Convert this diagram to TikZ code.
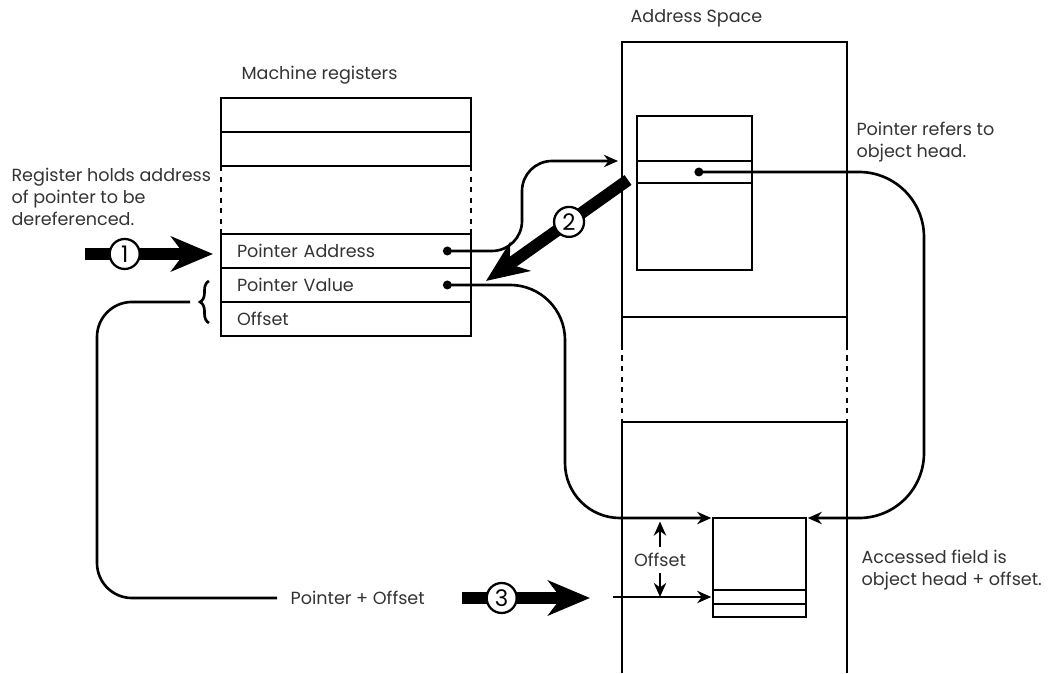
\documentclass[tikz,border=0pt]{standalone}
\usepackage{fontspec}
\setmainfont{Poppins}
\usetikzlibrary{positioning,calc,arrows.meta,decorations.pathreplacing}
\tikzset{% 
  diagram/.style = {x=0.02cm, y=-0.02cm, line width=0.8pt, text=black!80,
    font=\fontsize{10}{12.5}\selectfont},
  reg/.style = {draw, rectangle, minimum width=5cm, minimum height=0.68cm,
    text width=4.36cm, inner xsep=0.32cm, inner ysep=0pt, outer sep=0pt, align=left},
  gap/.style = {reg, draw=none, minimum height=1.36cm},
  cell/.style = {draw, rectangle, inner sep=0pt, outer sep=0pt},
  ptr/.style = {draw, line width=1.5pt, -{Stealth[length=8pt, width=7pt]}},
  dotptr/.style = {ptr, {Circle[length=5pt]}-{Stealth[length=8pt, width=7pt]}},
  bigarrow/.style = {draw, line width=0.24cm,
    -{Stealth[length=0.84cm, width=0.7cm, inset=0.26cm]}},
  stepnum/.style = {circle, draw, fill=white, line width=1.3pt, minimum size=0.6cm,
    inner sep=0pt, text=black, font=\fontsize{13}{13}\selectfont}
}

\begin{document}
\begin{tikzpicture}[diagram]
  \useasboundingbox (0,0) rectangle (1050,673);
  % machine registers
  \node[anchor=west] (regs) at (235,75) {Machine registers};
  \node[reg, anchor=north west] (r1) at (221,98) {};
  \node[reg, below=0pt of r1] (r2) {};
  \node[gap, below=0pt of r2] (r3) {};
  \node[reg, below=0pt of r3] (paddr) {Pointer Address};
  \node[reg, below=0pt of paddr] (pval) {Pointer Value};
  \node[reg, below=0pt of pval] (poff) {Offset};
  \draw[dashed] (r3.north west) -- (r3.south west) (r3.north east) -- (r3.south east);
  \node[anchor=north west, align=left] (note1) at (5,162)
    {Register holds address\\of pointer to be\\dereferenced.};
  % address space
  \node[anchor=west] (aslbl) at (624,18) {Address Space};
  \node[cell, anchor=north west, minimum width=4.5cm, minimum height=5.5cm] (upper) at (622,42) {};
  \node[cell, draw=none, below=0pt of upper, minimum width=4.5cm, minimum height=2.1cm] (middle) {};
  \draw (middle.north west) -- ++(0,28) (middle.north east) -- ++(0,28);
  \draw[dashed] ($(middle.north west)+(0,28)$) -- (middle.south west)
    ($(middle.north east)+(0,28)$) -- (middle.south east);
  \draw ($(middle.south west)+(0,251)$) -- (middle.south west) -- (middle.south east)
    -- ($(middle.south east)+(0,251)$);
  \node[cell, anchor=north west, minimum width=2.3cm, minimum height=0.9cm] (ohtop) at (637,116) {};
  \node[cell, below=0pt of ohtop, minimum width=2.3cm, minimum height=0.44cm] (ohead) {};
  \node[cell, below=0pt of ohead, minimum width=2.3cm, minimum height=1.74cm] (ohbot) {};
  \node[cell, anchor=north west, minimum width=1.86cm, minimum height=1.44cm] (aftop) at (713,518) {};
  \node[cell, below=0pt of aftop, minimum width=1.86cm, minimum height=0.28cm] (afield) {};
  \node[cell, below=0pt of afield, minimum width=1.86cm, minimum height=0.26cm] (afbot) {};
  \node[anchor=north west, align=left] (note2) at (850,116) {Pointer refers to\\object head.};
  \node[anchor=north west, align=left] (note3) at (855,544) {Accessed field is\\object head + offset.};
  \node (offl) at (660,560) {Offset};
  \node[anchor=west, inner xsep=0.26cm] (po) at (277,598) {Pointer + Offset};
  % pointers
  \coordinate (ahead) at ($(upper.west |- ohead.north)+(-4,0)$);
  \coordinate (brtip) at ($(pval.south west)+(-31,0)$);
  \draw[dotptr, rounded corners=0.6cm] ([xshift=-0.56cm]paddr.east)
    -| ($(ahead)+(-96,0)$) -- (ahead);
  \draw[dotptr, rounded corners=1.1cm, shorten >=1pt] ([xshift=-0.56cm]pval.east)
    -| ($(aftop.north west)+(-148,0)$) -- (aftop.north west);
  \draw[dotptr, rounded corners=1.3cm, shorten >=1pt] (ohead.center)
    -| ($(aftop.north east)+(118,0)$) -- (aftop.north east);
  \draw[ptr, shorten >=2pt] (offl) -- (offl |- aftop.north);
  \draw[ptr] (offl) -- (offl |- afield.west);
  \draw[ptr, shorten >=1pt] ($(afield.west)+(-100,0)$) -- (afield.west);
  \draw[line width=1.5pt, decorate, decoration={brace, amplitude=0.18cm}]
    ($(pval.south west)+(-12,21)$) -- ($(pval.south west)+(-12,-21)$);
  \draw[line width=1.5pt, rounded corners=0.7cm] (brtip)
    -| ($(po.west)+(-180,0)$) -- (po.west);
  % steps
  \draw[bigarrow] ($(paddr.west)+(-136,3)$) -- node[stepnum, pos=0.31] (s1) {1}
    ($(paddr.west)+(-8,3)$);
  \draw[bigarrow] ($(ohead.west)+(-9,8)$) -- node[stepnum, pos=0.415] (s2) {2}
    ($(pval.north east)+(15,13)$);
  \draw[bigarrow] ($(afield.west)+(-251,1)$) -- node[stepnum, pos=0.31] (s3) {3}
    ($(afield.west)+(-123,1)$);
\end{tikzpicture}
\end{document}
